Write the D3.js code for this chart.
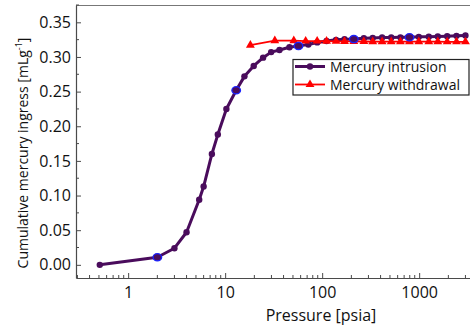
<!DOCTYPE html>
<html><head><meta charset="utf-8">
<script src="https://cdn.jsdelivr.net/npm/d3@7"></script>
<style>
html,body{margin:0;padding:0;background:#fff;}
svg{display:block;font-family:"Open Sans",sans-serif;}
</style></head>
<body><svg id="c" width="470" height="329"></svg>
<script>
// ---- data ----
const intrusionP = [0.51, 2.0, 3.0, 4.0, 5.4, 6.0, 7.3, 8.4, 10.3, 13.0, 15.8, 19.7, 24.6, 29.8, 36.3, 46, 57, 72, 89, 111, 139, 170, 212, 269, 332, 415, 515, 641, 794, 991, 1257, 1556, 1944, 2425, 3000];
const intrusionV = [0.000, 0.011, 0.024, 0.047, 0.094, 0.113, 0.160, 0.188, 0.225, 0.252, 0.272, 0.287, 0.299, 0.307, 0.310, 0.314, 0.316, 0.318, 0.321, 0.323, 0.3247, 0.3256, 0.3258, 0.327, 0.3275, 0.328, 0.328, 0.3283, 0.3285, 0.329, 0.3293, 0.3297, 0.330, 0.3305, 0.331];
const highlightP = [2.0, 13.0, 57, 212, 794];
const withdrawalP = [18.2, 32.5, 51, 67.6, 88.8, 111, 139, 170, 212, 269, 332, 415, 515, 641, 794, 991, 1257, 1556, 1944, 2425, 3000];
const withdrawalV = [0.317, 0.3235, 0.3235, 0.323, 0.323, 0.3228, 0.3226, 0.3225, 0.3224, 0.3223, 0.3222, 0.3222, 0.3221, 0.3221, 0.322, 0.322, 0.322, 0.322, 0.3219, 0.3219, 0.3219];
const xTickValues = [1, 10, 100, 1000];
const yTickValues = [0.00, 0.05, 0.10, 0.15, 0.20, 0.25, 0.30, 0.35];
const seriesNames = ["Mercury intrusion", "Mercury withdrawal"];
const xTitle = "Pressure [psia]";
const yTitle = "Cumulative mercury ingress [mLg";

// ---- layout ----
const svg = d3.select("#c");
const L = 76, T = 5, B = 278;
const x = d3.scaleLog().domain([0.29, 30000]).range([L, L + 5.015 * 97]);
const y = d3.scaleLinear().domain([-0.019, 0.375]).range([B, T]);
const R = x.range()[1];
const purple = "#4a0c5c", red = "#ff0000", blue = "#1a22ff", axisCol = "#4a4a4a";

// frame top
svg.append("line").attr("x1", L).attr("x2", R).attr("y1", T + 0.5).attr("y2", T + 0.5)
  .attr("stroke", "#777").attr("stroke-width", 1.2);

// x minor ticks
const xMinor = [];
for (let d = -1; d <= 4; d++) for (let k = 1; k <= 9; k++) {
  const v = k * Math.pow(10, d);
  if (v >= 0.29 && v <= 30000 && k !== 1) xMinor.push(v);
}
const gx = svg.append("g").attr("transform", `translate(0,${B})`);
gx.selectAll(".mn").data(xMinor).join("line")
  .attr("x1", d => x(d)).attr("x2", d => x(d)).attr("y1", 0).attr("y2", -3)
  .attr("stroke", axisCol).attr("stroke-width", 1);
gx.append("line").attr("x1", x(10000)).attr("x2", x(10000)).attr("y1", 0).attr("y2", -5)
  .attr("stroke", axisCol).attr("stroke-width", 1);
const xAxis = d3.axisBottom(x).tickValues(xTickValues).tickFormat(d3.format("d")).tickSizeInner(-5).tickSizeOuter(0).tickPadding(9);
gx.call(xAxis);
gx.select(".domain").attr("stroke", axisCol).attr("stroke-width", 1.2);
gx.selectAll(".tick line").attr("stroke", axisCol).attr("stroke-width", 1);
gx.selectAll(".tick text").attr("font-size", 16).attr("font-family", "Open Sans").attr("fill", "#111");

// y axis
const yMinor = d3.range(-0.0, 0.376, 0.025).filter(v => Math.round(v * 1000) % 50 !== 0);
const gy = svg.append("g").attr("transform", `translate(${L},0)`);
gy.selectAll(".mn").data(yMinor).join("line")
  .attr("x1", 0).attr("x2", 3).attr("y1", d => y(d)).attr("y2", d => y(d))
  .attr("stroke", axisCol).attr("stroke-width", 1);
const yAxis = d3.axisLeft(y).tickValues(yTickValues).tickFormat(d3.format(".2f")).tickSizeInner(-5).tickSizeOuter(0).tickPadding(5);
gy.call(yAxis);
gy.select(".domain").attr("stroke", axisCol).attr("stroke-width", 1.2);
gy.selectAll(".tick line").attr("stroke", axisCol).attr("stroke-width", 1);
gy.selectAll(".tick text").attr("font-size", 16).attr("font-family", "Open Sans").attr("fill", "#111");

// titles
svg.append("text").attr("x", 321).attr("y", 321).attr("text-anchor", "middle")
  .attr("font-size", 16).attr("fill", "#111").text(xTitle);
const yt = svg.append("text").attr("transform", "translate(28,153) rotate(-90)")
  .attr("text-anchor", "middle").attr("font-size", 14).attr("fill", "#111");
yt.append("tspan").text(yTitle);
yt.append("tspan").attr("font-size", 9).attr("dy", -6).text("-1");
yt.append("tspan").attr("dy", 6).text("]");

// data
const intr = intrusionP.map((p, i) => ({p, v: intrusionV[i]}));
const wd = withdrawalP.map((p, i) => ({p, v: withdrawalV[i]}));
const line = d3.line().x(d => x(d.p)).y(d => y(d.v));

svg.append("path").datum(intr).attr("d", line).attr("fill", "none")
  .attr("stroke", purple).attr("stroke-width", 3).attr("stroke-linejoin", "round");
svg.selectAll(".ip").data(intr).join("circle")
  .attr("cx", d => x(d.p)).attr("cy", d => y(d.v)).attr("r", 3.2).attr("fill", purple);

const tri = d3.symbol().type(d3.symbolTriangle).size(34);
svg.append("path").datum(wd).attr("d", line).attr("fill", "none")
  .attr("stroke", red).attr("stroke-width", 1.8);
svg.selectAll(".wp").data(wd).join("path")
  .attr("transform", d => `translate(${x(d.p)},${y(d.v)})`).attr("d", tri).attr("fill", red);

const hl = intr.filter(d => highlightP.includes(d.p));
svg.selectAll(".hl").data(hl).join("ellipse")
  .attr("cx", d => x(d.p)).attr("cy", d => y(d.v)).attr("rx", 4.3).attr("ry", 3.6)
  .attr("fill", purple).attr("stroke", blue).attr("stroke-width", 1.3);

// legend
const lg = svg.append("g");
lg.append("rect").attr("x", 293).attr("y", 59.5).attr("width", 176).attr("height", 35.5)
  .attr("fill", "#fff").attr("stroke", "#222").attr("stroke-width", 1.2);
const rows = [66.5, 84.5];
lg.append("line").attr("x1", 295).attr("x2", 325).attr("y1", rows[0]).attr("y2", rows[0])
  .attr("stroke", purple).attr("stroke-width", 3);
lg.append("circle").attr("cx", 310).attr("cy", rows[0]).attr("r", 3.2).attr("fill", purple);
lg.append("line").attr("x1", 295).attr("x2", 325).attr("y1", rows[1]).attr("y2", rows[1])
  .attr("stroke", red).attr("stroke-width", 1.8);
lg.append("path").attr("transform", `translate(310,${rows[1]})`).attr("d", tri).attr("fill", red);
lg.selectAll(".lt").data(seriesNames).join("text")
  .attr("x", 330).attr("y", (d, i) => rows[i] + 5.5).attr("font-size", 14).attr("fill", "#111").text(d => d);
</script></body></html>
